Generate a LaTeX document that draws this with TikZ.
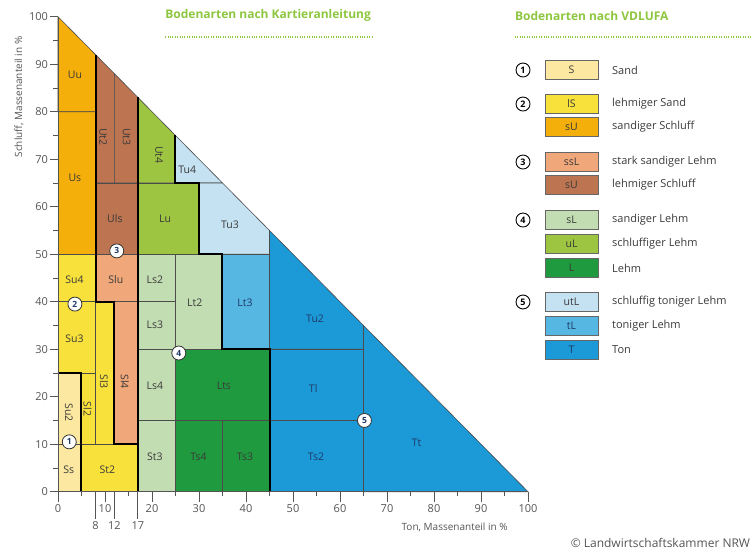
\documentclass[tikz,border=0pt]{standalone}
\usepackage{fontspec}
\setmainfont{Open Sans}
\usepackage{tikz}

\definecolor{sand}{HTML}{FCE8A0}
\definecolor{lsand}{HTML}{F9E13C}
\definecolor{sschluff}{HTML}{F5AF0A}
\definecolor{sslehm}{HTML}{F0A77A}
\definecolor{lschluff}{HTML}{BD7450}
\definecolor{slehm}{HTML}{C3DDB3}
\definecolor{ulehm}{HTML}{9DC541}
\definecolor{lehm}{HTML}{1F9A3F}
\definecolor{utlehm}{HTML}{C5E2F2}
\definecolor{tlehm}{HTML}{57B7E3}
\definecolor{ton}{HTML}{1B9AD7}
\definecolor{titlegreen}{HTML}{8DC63F}
\definecolor{axisgray}{HTML}{555555}
\definecolor{labelink}{HTML}{3A3A3A}
\definecolor{navy}{HTML}{1F3A68}

\tikzset{
	thin border/.style={draw=black!70, line width=0.6pt},
	group border/.style={draw=black, line width=2pt},
	axisline/.style={draw=axisgray, line width=0.8pt},
	fld/.style={font=\fontsize{10.5}{11}\selectfont, text=labelink, inner sep=0pt},
	fldb/.style={fld, text=navy},
	fldv/.style={fld, rotate=-90},
	marker/.style={circle, draw=black!80, fill=white, line width=0.8pt, minimum size=14pt, inner sep=0pt, font=\fontsize{8.5}{8.5}\selectfont\bfseries, text=navy},
	keynum/.style={circle, draw=black, fill=white, line width=0.9pt, minimum size=14pt, inner sep=0pt, font=\fontsize{9}{9}\selectfont\bfseries},
	keybox/.style={draw=black!60, line width=0.8pt, minimum width=53pt, minimum height=19pt, inner sep=0pt, font=\fontsize{10.5}{11}\selectfont, text=labelink},
	keytext/.style={anchor=west, inner sep=0pt, font=\fontsize{11}{12}\selectfont, text=labelink},
	heading/.style={anchor=west, inner sep=0pt, font=\fontsize{12}{13}\selectfont\bfseries, text=titlegreen},
	dotline/.style={draw=titlegreen, line width=1.3pt, dash pattern=on 1pt off 1.4pt},
	ticklabel/.style={inner sep=0pt, font=\fontsize{11}{12}\selectfont, text=axisgray},
	axistitle/.style={inner sep=0pt, font=\fontsize{10}{11}\selectfont, text=axisgray}
}

\begin{document}
\begin{tikzpicture}[x=4.7pt, y=4.75pt]
	\useasboundingbox (-12.34,-13.12) rectangle (147.66,103.52);

	% S
	\filldraw[thin border, fill=sand] (0,0) rectangle (5,10);
	\filldraw[thin border, fill=sand] (0,10) rectangle (5,25);
	% lS
	\filldraw[thin border, fill=lsand] (5,10) rectangle (8,25);
	\filldraw[thin border, fill=lsand] (5,0) rectangle (17,10);
	\filldraw[thin border, fill=lsand] (0,25) rectangle (8,40);
	\filldraw[thin border, fill=lsand] (8,10) rectangle (12,40);
	\filldraw[thin border, fill=lsand] (0,40) rectangle (8,50);
	% sU
	\filldraw[thin border, fill=sschluff] (0,50) rectangle (8,80);
	\filldraw[thin border, fill=sschluff] (0,80) -- (8,80) -- (8,92) -- (0,100) -- cycle;
	% ssL
	\filldraw[thin border, fill=sslehm] (12,10) rectangle (17,40);
	\filldraw[thin border, fill=sslehm] (8,40) rectangle (17,50);
	% lehmiger Schluff
	\filldraw[thin border, fill=lschluff] (8,50) rectangle (17,65);
	\filldraw[thin border, fill=lschluff] (8,65) -- (12,65) -- (12,88) -- (8,92) -- cycle;
	\filldraw[thin border, fill=lschluff] (12,65) -- (17,65) -- (17,83) -- (12,88) -- cycle;
	% sL
	\filldraw[thin border, fill=slehm] (17,40) rectangle (25,50);
	\filldraw[thin border, fill=slehm] (17,30) rectangle (25,40);
	\filldraw[thin border, fill=slehm] (17,15) rectangle (25,30);
	\filldraw[thin border, fill=slehm] (17,0) rectangle (25,15);
	\filldraw[thin border, fill=slehm] (25,30) rectangle (35,50);
	% uL
	\filldraw[thin border, fill=ulehm] (17,65) -- (25,65) -- (25,75) -- (17,83) -- cycle;
	\filldraw[thin border, fill=ulehm] (17,50) rectangle (30,65);
	% L
	\filldraw[thin border, fill=lehm] (25,15) rectangle (45,30);
	\filldraw[thin border, fill=lehm] (25,0) rectangle (35,15);
	\filldraw[thin border, fill=lehm] (35,0) rectangle (45,15);
	% utL
	\filldraw[thin border, fill=utlehm] (25,65) -- (35,65) -- (25,75) -- cycle;
	\filldraw[thin border, fill=utlehm] (30,50) -- (45,50) -- (45,55) -- (35,65) -- (30,65) -- cycle;
	% tL
	\filldraw[thin border, fill=tlehm] (35,30) rectangle (45,50);
	% T
	\filldraw[thin border, fill=ton] (45,30) -- (65,30) -- (65,35) -- (45,55) -- cycle;
	\filldraw[thin border, fill=ton] (45,15) rectangle (65,30);
	\filldraw[thin border, fill=ton] (45,0) rectangle (65,15);
	\filldraw[thin border, fill=ton] (65,0) -- (100,0) -- (65,35) -- cycle;

	% borders between the groups
	\draw[group border] (0,25) -- (5,25) -- (5,0);
	\draw[group border] (17,10) -- (12,10) -- (12,40) -- (8,40) -- (8,92);
	\draw[group border] (17,0) -- (17,83);
	\draw[group border] (25,75) -- (25,65) -- (30,65) -- (30,50) -- (35,50) -- (35,30) -- (45,30) -- (45,0);

	% axes
	\draw[axisline] (-1.7,0) -- (100,0);
	\draw[axisline] (0,0) -- (0,100);
	\foreach \y in {0,10,...,100} {
		\draw[axisline] (-1.7,\y) -- (0,\y);
		\node[ticklabel, anchor=east] at (-2.1,\y) {\y};
	}
	\foreach \y in {5,15,...,95}
		\draw[axisline] (-1,\y) -- (0,\y);
	\foreach \x in {0,10,...,100} {
		\draw[axisline] (\x,0) -- (\x,-2.1);
		\node[ticklabel] at (\x,-3.6) {\x};
	}
	\foreach \x in {5,15,...,95}
		\draw[axisline] (\x,0) -- (\x,-1);
	\foreach \x in {8,12,17} {
		\draw[axisline] (\x,0) -- (\x,-5.8);
		\node[ticklabel] at (\x,-7.1) {\x};
	}
	\node[axistitle, rotate=90] (ylab) at (-8.3,83.1) {Schluff, Massenanteil in \%};
	\node[axistitle, anchor=east] (xlab) at (95.7,-7.4) {Ton, Massenanteil in \%};

	% Bodenarten
	\node[fld] (ss) at (2.3,4.7) {Ss};
	\node[fldv] (su2) at (2.3,16.7) {Su2};
	\node[fldv] (sl2) at (6.3,17.4) {Sl2};
	\node[fld] (st2) at (10.5,4.6) {St2};
	\node[fld] (su3) at (3.5,32.1) {Su3};
	\node[fldv] (sl3) at (9.8,23.2) {Sl3};
	\node[fldv] (sl4) at (14.2,23.2) {Sl4};
	\node[fld] (su4) at (3.5,44.7) {Su4};
	\node[fld] (slu) at (12.3,44.7) {Slu};
	\node[fld] (us) at (3.6,66) {Us};
	\node[fld] (uu) at (3.6,87.7) {Uu};
	\node[fld] (uls) at (12.1,57.5) {Uls};
	\node[fldv] (ut2) at (9.6,74.7) {Ut2};
	\node[fldv] (ut3) at (14.6,74.7) {Ut3};
	\node[fldv] (ut4) at (21.5,70.9) {Ut4};
	\node[fld] (lu) at (22.8,57.5) {Lu};
	\node[fld] (tu4) at (27.5,67.7) {Tu4};
	\node[fld] (tu3) at (36.6,56.1) {Tu3};
	\node[fld] (ls2) at (20.6,44.7) {Ls2};
	\node[fld] (ls3) at (20.6,35.1) {Ls3};
	\node[fld] (ls4) at (20.6,22.3) {Ls4};
	\node[fld] (st3) at (20.6,7.4) {St3};
	\node[fld] (lt2) at (29.1,39.7) {Lt2};
	\node[fldb] (lt3) at (39.8,39.7) {Lt3};
	\node[fld] (lts) at (35.3,22.3) {Lts};
	\node[fld] (ts4) at (29.9,7.4) {Ts4};
	\node[fld] (ts3) at (39.8,7.4) {Ts3};
	\node[fldb] (tu2) at (54.7,36.5) {Tu2};
	\node[fldb] (tl) at (54.3,21.8) {Tl};
	\node[fldb] (ts2) at (54.9,7.4) {Ts2};
	\node[fldb] (tt) at (76.3,10.2) {Tt};

	% Gruppen
	\node[marker] (m1) at (2.4,10.5) {1};
	\node[marker] (m2) at (3.6,39.5) {2};
	\node[marker] (m3) at (12.5,50.7) {3};
	\node[marker] (m4) at (25.7,29.2) {4};
	\node[marker] (m5) at (65.2,15) {5};

	% headings
	\node[heading] (ka) at (22.8,100.2) {Bodenarten nach Kartieranleitung};
	\draw[dotline] (22.8,95.7) -- (67,95.7);
	\node[heading] (vd) at (97.2,100.2) {Bodenarten nach VDLUFA};
	\draw[dotline] (97.2,95.7) -- (147.66,95.7);

	% legend
	\node[keynum] (k1) at (98.94,88.78) {1};
	\node[keybox, fill=sand] (kS) at (109.26,88.78) {S};
	\node[keytext] (tS) at (117.87,88.78) {Sand};

	\node[keynum] (k2) at (98.94,81.62) {2};
	\node[keybox, fill=lsand] (klS) at (109.26,81.62) {lS};
	\node[keytext] (tlS) at (117.87,81.62) {lehmiger Sand};
	\node[keybox, fill=sschluff] (ksU) at (109.26,76.78) {sU};
	\node[keytext] (tsU) at (117.87,76.78) {sandiger Schluff};

	\node[keynum] (k3) at (98.94,69.41) {3};
	\node[keybox, fill=sslehm] (kssL) at (109.26,69.41) {ssL};
	\node[keytext] (tssL) at (117.87,69.41) {stark sandiger Lehm};
	\node[keybox, fill=lschluff] (klU) at (109.26,64.57) {sU};
	\node[keytext] (tlU) at (117.87,64.57) {lehmiger Schluff};

	\node[keynum] (k4) at (98.94,57.2) {4};
	\node[keybox, fill=slehm] (ksL) at (109.26,57.2) {sL};
	\node[keytext] (tsL) at (117.87,57.2) {sandiger Lehm};
	\node[keybox, fill=ulehm] (kuL) at (109.26,52.15) {uL};
	\node[keytext] (tuL) at (117.87,52.15) {schluffiger Lehm};
	\node[keybox, fill=lehm] (kL) at (109.26,47.09) {L};
	\node[keytext] (tL) at (117.87,47.09) {Lehm};

	\node[keynum] (k5) at (98.94,39.94) {5};
	\node[keybox, fill=utlehm] (kutL) at (109.26,39.94) {utL};
	\node[keytext] (tutL) at (117.87,39.94) {schluffig toniger Lehm};
	\node[keybox, fill=tlehm, text=navy] (ktL) at (109.26,34.89) {tL};
	\node[keytext] (ttL) at (117.87,34.89) {toniger Lehm};
	\node[keybox, fill=ton, text=navy] (kT) at (109.26,29.83) {T};
	\node[keytext] (tT) at (117.87,29.83) {Ton};

	\node[anchor=east, inner sep=0pt, font=\fontsize{12}{13}\selectfont, text=axisgray] (copy) at (147.3,-10.8) {© Landwirtschaftskammer NRW};
\end{tikzpicture}
\end{document}
